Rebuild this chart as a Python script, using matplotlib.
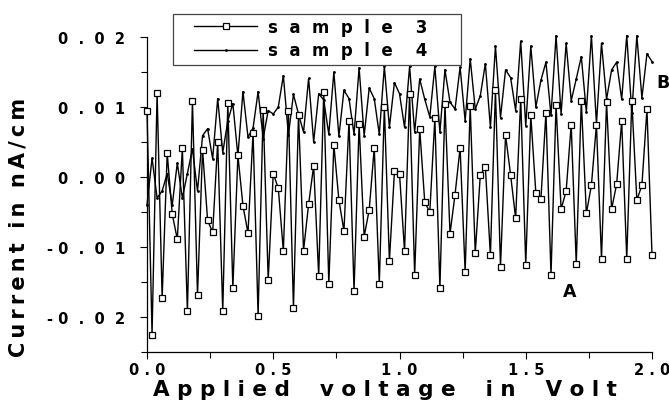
import numpy as np
import matplotlib
matplotlib.use("Agg")
import matplotlib.pyplot as plt
from matplotlib.patches import Rectangle
from matplotlib.ticker import MultipleLocator

# ---------------- data ----------------
voltage = np.round(np.arange(101) * 0.02, 2)

sample3 = [
    0.0095, -0.0225, 0.0120, -0.0173, 0.0034, -0.0053, -0.0089, 0.0041, -0.0192, 0.0109,
    -0.0169, 0.0039, -0.0062, -0.0079, 0.0050, -0.0192, 0.0106, -0.0159, 0.0031, -0.0041,
    -0.0080, 0.0063, -0.0198, 0.0096, -0.0147, 0.0005, -0.0016, -0.0106, 0.0094, -0.0187,
    0.0089, -0.0105, -0.0039, 0.0016, -0.0141, 0.0122, -0.0153, 0.0046, -0.0033, -0.0077,
    0.0080, -0.0163, 0.0076, -0.0085, -0.0047, 0.0042, -0.0153, 0.0100, -0.0120, 0.0008,
    0.0005, -0.0106, 0.0119, -0.0140, 0.0069, -0.0036, -0.0050, 0.0084, -0.0159, 0.0104,
    -0.0081, -0.0025, 0.0042, -0.0136, 0.0101, -0.0109, 0.0003, 0.0014, -0.0112, 0.0124,
    -0.0128, 0.0060, 0.0003, -0.0059, 0.0112, -0.0125, 0.0088, -0.0023, -0.0032, 0.0092,
    -0.0140, 0.0103, -0.0046, -0.0020, 0.0075, -0.0124, 0.0109, -0.0052, -0.0012, 0.0075,
    -0.0117, 0.0107, -0.0046, -0.0010, 0.0080, -0.0117, 0.0109, -0.0033, -0.0012, 0.0097,
    -0.0111,
]

sample4 = [
    -0.0040, 0.0027, -0.0030, -0.0020, 0.0005, -0.0040, 0.0020, -0.0030, 0.0005, 0.0040,
    -0.0020, 0.0059, 0.0069, 0.0026, 0.0112, 0.0035, 0.0080, 0.0105, 0.0030, 0.0122,
    0.0057, 0.0070, 0.0122, 0.0055, 0.0095, 0.0090, 0.0100, 0.0145, 0.0060, 0.0118,
    0.0090, 0.0064, 0.0141, 0.0050, 0.0119, 0.0110, 0.0061, 0.0150, 0.0058, 0.0124,
    0.0112, 0.0061, 0.0156, 0.0059, 0.0127, 0.0112, 0.0061, 0.0158, 0.0071, 0.0135,
    0.0119, 0.0071, 0.0158, 0.0064, 0.0140, 0.0111, 0.0086, 0.0158, 0.0064, 0.0153,
    0.0107, 0.0097, 0.0157, 0.0080, 0.0169, 0.0097, 0.0116, 0.0162, 0.0071, 0.0187,
    0.0085, 0.0153, 0.0142, 0.0095, 0.0194, 0.0073, 0.0187, 0.0100, 0.0138, 0.0164,
    0.0088, 0.0202, 0.0090, 0.0191, 0.0109, 0.0140, 0.0172, 0.0093, 0.0202, 0.0076,
    0.0191, 0.0111, 0.0153, 0.0164, 0.0111, 0.0202, 0.0092, 0.0202, 0.0113, 0.0176,
    0.0165,
]

series_names = ["s  a  m  p  l  e    3", "s  a  m  p  l  e    4"]
y_ticks = [-0.02, -0.01, 0.0, 0.01, 0.02]
y_tick_labels = ["- 0  .  0  2", "- 0  .  0  1", "0  .  0  0", "0  .  0  1", "0  .  0  2"]
x_ticks = [0.0, 0.5, 1.0, 1.5, 2.0]
x_tick_labels = ["0 . 0", "0 . 5", "1 . 0", "1 . 5", "2 . 0"]
x_label = "A p p l i e d    v o l t a g e    i n    V o l t"
y_label = "C\u2009u\u2009r\u2009r\u2009e\u2009n\u2009t  i\u2009n  n\u2009A\u2009/\u2009c\u2009m"

# ---------------- figure ----------------
plt.rcParams['font.family'] = ['DejaVu Sans']
plt.rcParams['font.weight'] = 'bold'

W, H = 669, 406
fig = plt.figure(figsize=(W / 100, H / 100), dpi=100)
ax = fig.add_axes([147 / W, 1 - 353 / H, 505 / W, 315 / H])

l3, = ax.plot(voltage, sample3, color='black', lw=1.0, marker='s', ms=4.6,
              mfc='white', mec='black', mew=0.9, clip_on=False, zorder=3)
l4, = ax.plot(voltage, sample4, color='black', lw=1.0, marker='.', ms=2,
              clip_on=False, zorder=2)

ax.set_xlim(0, 2.0)
ax.set_ylim(-0.025, 0.02)

for s in ['top', 'right']:
    ax.spines[s].set_visible(False)
for s in ['left', 'bottom']:
    ax.spines[s].set_linewidth(0.9)

ax.set_xticks(x_ticks)
ax.set_xticklabels(x_tick_labels)
ax.set_yticks(y_ticks)
ax.set_yticklabels(y_tick_labels)
ax.xaxis.set_minor_locator(MultipleLocator(0.25))
ax.yaxis.set_minor_locator(MultipleLocator(0.005))
ax.tick_params(axis='both', which='major', direction='out', length=5, width=0.8,
               labelsize=10.5)
ax.tick_params(axis='both', which='minor', direction='out', length=4, width=0.8)
ax.tick_params(axis='y', which='major', pad=11)
ax.tick_params(axis='x', which='major', pad=2)
for t in ax.get_xticklabels() + ax.get_yticklabels():
    t.set_fontweight('bold')

ax.set_xlabel(x_label, fontsize=15.5, fontweight='bold')
ax.xaxis.set_label_coords(0.471, -0.085)
ax.set_ylabel(y_label, fontsize=15, fontweight='bold')
ax.yaxis.set_label_coords(-0.235, 0.4)

# annotations
ax.text(2.044, 0.0136, "B", fontsize=12.5, fontweight='bold', ha='center', va='center',
        clip_on=False)
ax.text(1.675, -0.0163, "A", fontsize=12.5, fontweight='bold', ha='center', va='center',
        clip_on=False)

# legend
leg = fig.legend([l3, l4], series_names, loc='upper left',
                 bbox_to_anchor=(194 / W, 1 - 19 / H), frameon=False,
                 fontsize=12, handlelength=3.8, handletextpad=0.66,
                 borderpad=0, borderaxespad=0, labelspacing=0.33, numpoints=1)
for t in leg.get_texts():
    t.set_fontweight('bold')
fig.patches.append(Rectangle((173 / W, 1 - 66 / H), 288 / W, 51 / H,
                             transform=fig.transFigure, fill=False,
                             edgecolor='#444444', lw=0.9))

fig.savefig("out.png", dpi=100)
